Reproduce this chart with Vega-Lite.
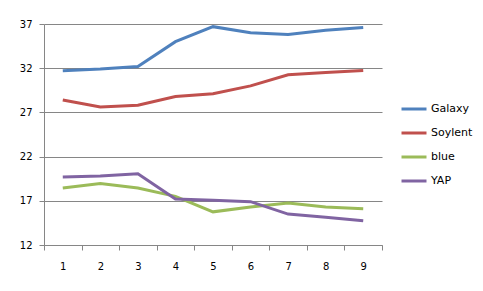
{
  "$schema": "https://vega.github.io/schema/vega-lite/v6.json",
  "width": 338,
  "height": 221,
  "autosize": "none",
  "padding": {"left": 44, "top": 24, "right": 101, "bottom": 46},
  "background": "white",
  "config": {
    "view": {"stroke": null},
    "font": "DejaVu Sans",
    "axis": {"labelFont": "DejaVu Sans", "labelColor": "#000000", "labelFontSize": 10, "domainColor": "#868686", "tickColor": "#868686", "gridColor": "#868686", "titleFontSize": 10}
  },
  "data": {
    "values": [
      {"x": 1, "series": "Galaxy", "v": 31.7},
      {"x": 2, "series": "Galaxy", "v": 31.9},
      {"x": 3, "series": "Galaxy", "v": 32.2},
      {"x": 4, "series": "Galaxy", "v": 35.0},
      {"x": 5, "series": "Galaxy", "v": 36.7},
      {"x": 6, "series": "Galaxy", "v": 36.0},
      {"x": 7, "series": "Galaxy", "v": 35.8},
      {"x": 8, "series": "Galaxy", "v": 36.3},
      {"x": 9, "series": "Galaxy", "v": 36.6},
      {"x": 1, "series": "Soylent", "v": 28.4},
      {"x": 2, "series": "Soylent", "v": 27.6},
      {"x": 3, "series": "Soylent", "v": 27.8},
      {"x": 4, "series": "Soylent", "v": 28.8},
      {"x": 5, "series": "Soylent", "v": 29.1},
      {"x": 6, "series": "Soylent", "v": 30.0},
      {"x": 7, "series": "Soylent", "v": 31.25},
      {"x": 8, "series": "Soylent", "v": 31.5},
      {"x": 9, "series": "Soylent", "v": 31.75},
      {"x": 1, "series": "blue", "v": 18.45},
      {"x": 2, "series": "blue", "v": 18.95},
      {"x": 3, "series": "blue", "v": 18.45},
      {"x": 4, "series": "blue", "v": 17.5},
      {"x": 5, "series": "blue", "v": 15.75},
      {"x": 6, "series": "blue", "v": 16.3},
      {"x": 7, "series": "blue", "v": 16.75},
      {"x": 8, "series": "blue", "v": 16.3},
      {"x": 9, "series": "blue", "v": 16.1},
      {"x": 1, "series": "YAP", "v": 19.7},
      {"x": 2, "series": "YAP", "v": 19.8},
      {"x": 3, "series": "YAP", "v": 20.05},
      {"x": 4, "series": "YAP", "v": 17.2},
      {"x": 5, "series": "YAP", "v": 17.05},
      {"x": 6, "series": "YAP", "v": 16.9},
      {"x": 7, "series": "YAP", "v": 15.5},
      {"x": 8, "series": "YAP", "v": 15.15},
      {"x": 9, "series": "YAP", "v": 14.75}
    ]
  },
  "mark": {"type": "line", "strokeWidth": 3},
  "encoding": {
    "x": {
      "field": "x",
      "type": "ordinal",
      "scale": {"type": "band", "paddingInner": 0, "paddingOuter": 0},
      "axis": {"title": null, "labelAngle": 0, "tickBand": "extent", "tickSize": 5, "labelPadding": 11, "domainColor": "#868686"}
    },
    "y": {
      "field": "v",
      "type": "quantitative",
      "scale": {"domain": [12, 37], "nice": false, "zero": false},
      "axis": {"title": null, "values": [12, 17, 22, 27, 32, 37], "tickSize": 5, "labelPadding": 7, "grid": true}
    },
    "color": {
      "field": "series",
      "type": "nominal",
      "scale": {"domain": ["Galaxy", "Soylent", "blue", "YAP"], "range": ["#4F81BD", "#C0504D", "#9BBB59", "#8064A2"]},
      "legend": {
        "title": null,
        "orient": "none",
        "legendX": 356,
        "legendY": 71,
        "symbolType": "stroke",
        "symbolSize": 625,
        "symbolStrokeWidth": 3,
        "labelFont": "DejaVu Sans",
        "labelFontSize": 11,
        "labelColor": "#000000",
        "rowPadding": 4,
        "labelOffset": 3
      }
    }
  }
}
